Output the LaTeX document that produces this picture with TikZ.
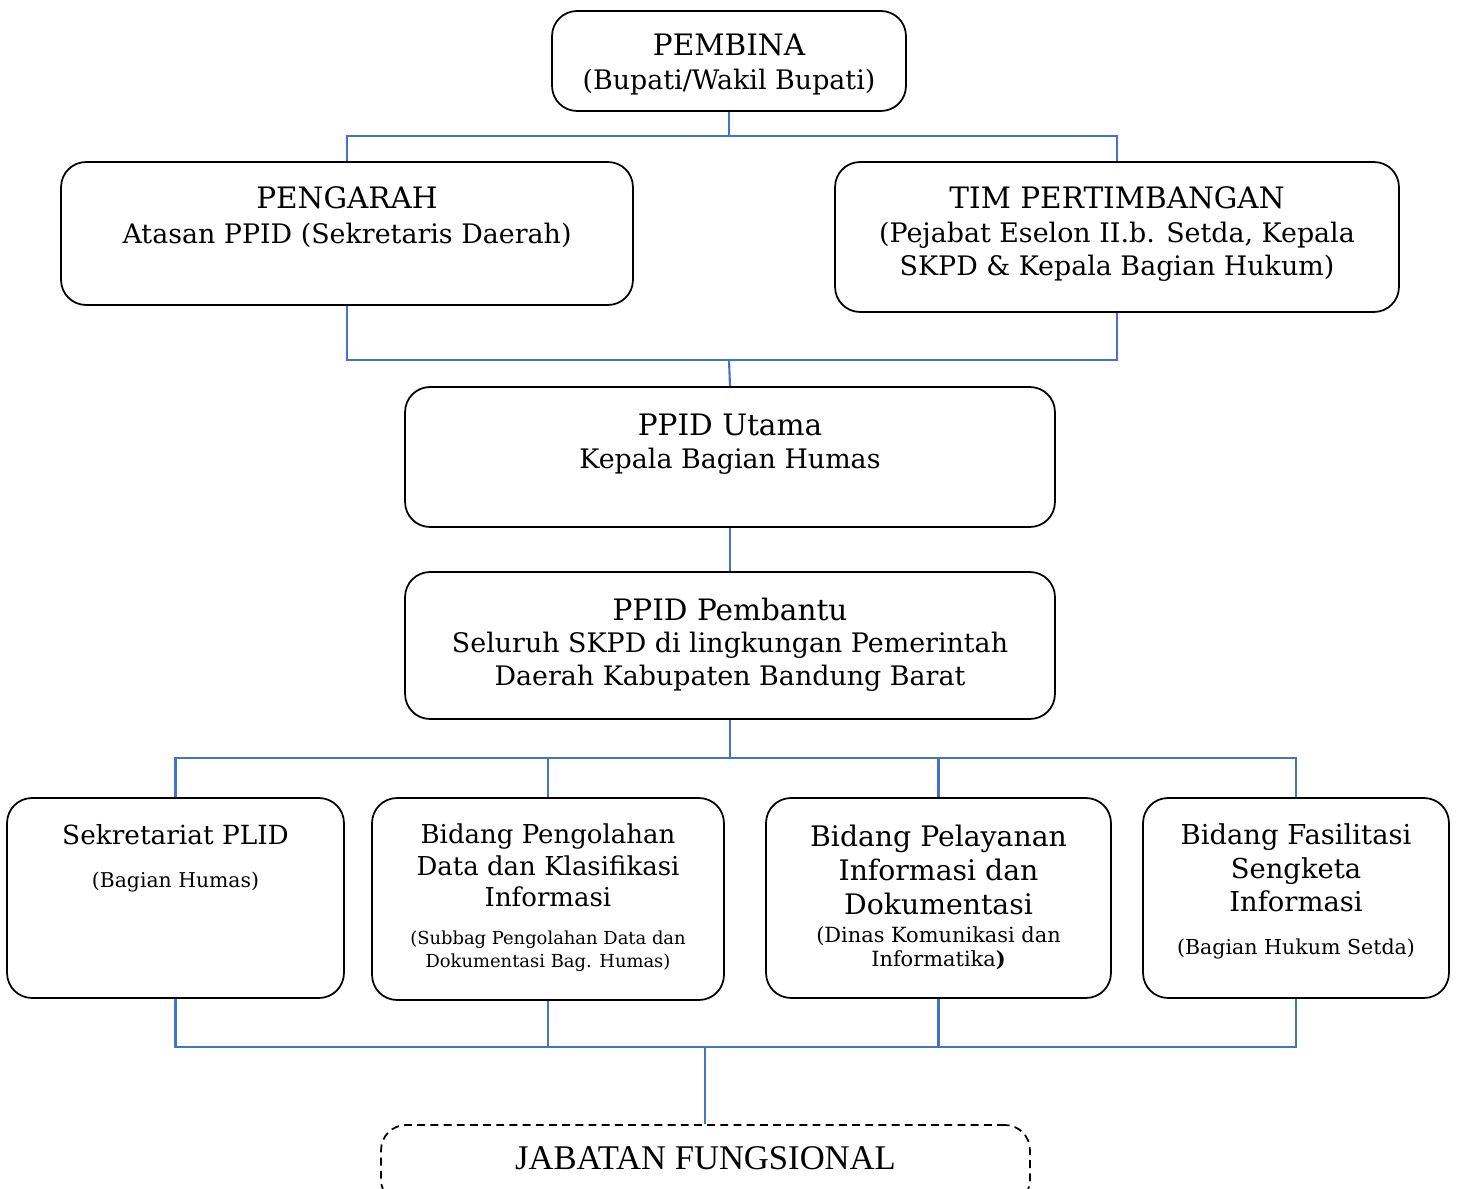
\documentclass[tikz,border=0pt]{standalone}
\usepackage{fontspec}
\setmainfont{DejaVu Serif}
\newfontfamily\jabfont{Liberation Serif}
\usetikzlibrary{positioning}
\definecolor{linkblue}{RGB}{68,114,196}

\begin{document}
\begin{tikzpicture}[x=0.02cm,y=-0.02cm]
\tikzstyle{box}=[draw,rounded corners=0.5cm,line width=1pt,inner sep=0pt]
\tikzstyle{txt}=[align=center,inner sep=0pt]
\tikzstyle{title}=[txt,font=\fontsize{16.8}{20}\selectfont]
\tikzstyle{body}=[txt,font=\fontsize{15.3}{18.7}\selectfont]
\tikzstyle{link}=[draw=linkblue,line width=1.2pt]
\useasboundingbox (0,0) rectangle (1457,1189);

% kotak-kotak
\node[box,minimum width=7.08cm,minimum height=2cm](pembina) at (729,61){};
\node[box,minimum width=11.44cm,minimum height=2.86cm](pengarah) at (347,233.5){};
\node[box,minimum width=11.28cm,minimum height=3cm](tim) at (1117,237){};
\node[box,minimum width=13cm,minimum height=2.8cm](utama) at (730,457){};
\node[box,minimum width=13cm,minimum height=2.94cm](pembantu) at (730,645.5){};
\node[box,minimum width=6.74cm,minimum height=4cm](sekr) at (175.5,898){};
\node[box,minimum width=7.04cm,minimum height=4.04cm](olah) at (548,899){};
\node[box,minimum width=6.9cm,minimum height=4cm](layan) at (938.5,898){};
\node[box,minimum width=6.12cm,minimum height=4cm](fasil) at (1296,898){};
\node[box,dashed,dash pattern=on 4.5pt off 3pt,minimum width=12.98cm,minimum height=1.6cm](jabatan) at (705.5,1165){};

% teks
\node[title](pembina-t) at (729,45){PEMBINA};
\node[body](pembina-s) at (729,82.5){(Bupati/Wakil Bupati)};
\node[title](pengarah-t) at (347,198){PENGARAH};
\node[body](pengarah-s) at (347,235){Atasan PPID (Sekretaris Daerah)};
\node[title](tim-t) at (1117,198){TIM PERTIMBANGAN};
\node[body](tim-s) at (1117,252){(Pejabat Eselon II.b. Setda, Kepala\\SKPD \& Kepala Bagian Hukum)};
\node[title](utama-t) at (730,425){PPID Utama};
\node[body](utama-s) at (730,461.5){Kepala Bagian Humas};
\node[title](pembantu-t) at (730,609){PPID Pembantu};
\node[body](pembantu-s) at (730,662){Seluruh SKPD di lingkungan Pemerintah\\Daerah Kabupaten Bandung Barat};
\node[txt,font=\fontsize{15}{19}\selectfont](sekr-t) at (175.5,835){Sekretariat PLID};
\node[txt,font=\fontsize{11.6}{13}\selectfont](sekr-s) at (175.5,882){(Bagian Humas)};
\node[txt,font=\fontsize{14.8}{17.9}\selectfont](olah-t) at (548,865.5){Bidang Pengolahan\\Data dan Klasifikasi\\Informasi};
\node[txt,font=\fontsize{10.2}{13}\selectfont](olah-s) at (548,951.5){(Subbag Pengolahan Data dan\\Dokumentasi Bag. Humas)};
\node[txt,font=\fontsize{16.1}{19.6}\selectfont](layan-t) at (938.5,870){Bidang Pelayanan\\Informasi dan\\Dokumentasi};
\node[txt,font=\fontsize{11.9}{13.6}\selectfont](layan-s) at (938.5,948){(Dinas Komunikasi dan\\Informatika\textbf{)}};
\node[txt,font=\fontsize{15.6}{19}\selectfont](fasil-t) at (1296,868){Bidang Fasilitasi\\Sengketa\\Informasi};
\node[txt,font=\fontsize{11.7}{13}\selectfont](fasil-s) at (1296,949){(Bagian Hukum Setda)};
\node[txt,font=\jabfont\fontsize{19.7}{22}\selectfont](jabatan-t) at (705.5,1158){JABATAN FUNGSIONAL};

% garis penghubung
\coordinate (bus1) at (729,136);
\coordinate (bus2) at (729,360);
\coordinate (bus3) at (730,758);
\coordinate (bus4) at (705,1047);
\draw[link] (pembina.south) -- (bus1);
\draw[link] (pengarah.north) -- (pengarah.north |- bus1) -- (tim.north |- bus1) -- (tim.north);
\draw[link] (pengarah.south) -- (pengarah.south |- bus2) -- (tim.south |- bus2) -- (tim.south);
\draw[link] (bus2) -- (utama.north);
\draw[link] (utama.south) -- (pembantu.north);
\draw[link] (pembantu.south) -- (bus3);
\draw[link] (sekr.north) -- (sekr.north |- bus3) -- (fasil.north |- bus3) -- (fasil.north);
\foreach \b in {olah,layan}
  \draw[link] (\b.north) -- (\b.north |- bus3);
\draw[link] (sekr.south) -- (sekr.south |- bus4) -- (fasil.south |- bus4) -- (fasil.south);
\foreach \b in {olah,layan}
  \draw[link] (\b.south) -- (\b.south |- bus4);
\draw[link] (bus4) -- (jabatan.north -| bus4);
\end{tikzpicture}
\end{document}
